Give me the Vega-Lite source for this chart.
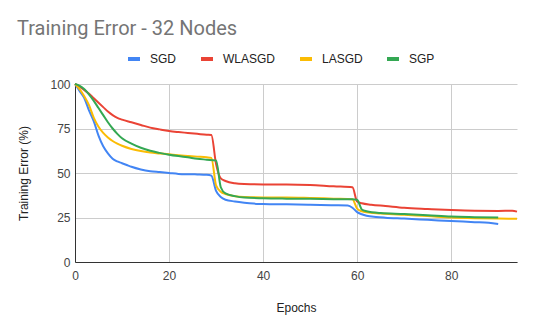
{
  "$schema": "https://vega.github.io/schema/vega-lite/v6.json",
  "width": 442,
  "height": 178,
  "autosize": {"type": "none"},
  "padding": {"left": 75, "top": 84, "right": 17, "bottom": 69},
  "background": "white",
  "title": {
    "text": "Training Error - 32 Nodes",
    "anchor": "start",
    "frame": "group",
    "dx": -58,
    "offset": -4,
    "baseline": "alphabetic",
    "font": "Roboto",
    "fontSize": 20,
    "fontWeight": "normal",
    "color": "#757575"
  },
  "config": {
    "view": {"stroke": null},
    "font": "Liberation Sans",
    "axis": {
      "labelFont": "Liberation Sans",
      "labelFontSize": 12,
      "labelColor": "#444444",
      "labelFlush": false,
      "titleFont": "Liberation Sans",
      "titleFontSize": 12,
      "titleFontWeight": "normal",
      "titleColor": "#222222",
      "gridColor": "#cccccc",
      "gridWidth": 1,
      "domainColor": "#333333",
      "domainWidth": 1,
      "ticks": false
    },
    "legend": {
      "labelFont": "Liberation Sans",
      "labelFontSize": 12,
      "labelColor": "#222222"
    }
  },
  "data": {
    "values": [
      {"series": "SGD", "epoch": 0, "value": 100},
      {"series": "SGD", "epoch": 1, "value": 96},
      {"series": "SGD", "epoch": 2, "value": 92},
      {"series": "SGD", "epoch": 3, "value": 85},
      {"series": "SGD", "epoch": 4, "value": 79},
      {"series": "SGD", "epoch": 5, "value": 71},
      {"series": "SGD", "epoch": 6, "value": 65},
      {"series": "SGD", "epoch": 7, "value": 61},
      {"series": "SGD", "epoch": 8, "value": 58},
      {"series": "SGD", "epoch": 9, "value": 56.5},
      {"series": "SGD", "epoch": 10, "value": 55.5},
      {"series": "SGD", "epoch": 11, "value": 54.5},
      {"series": "SGD", "epoch": 12, "value": 53.5},
      {"series": "SGD", "epoch": 14, "value": 52},
      {"series": "SGD", "epoch": 16, "value": 51},
      {"series": "SGD", "epoch": 18, "value": 50.5},
      {"series": "SGD", "epoch": 20, "value": 50},
      {"series": "SGD", "epoch": 22, "value": 49.5},
      {"series": "SGD", "epoch": 24, "value": 49.3},
      {"series": "SGD", "epoch": 26, "value": 49.2},
      {"series": "SGD", "epoch": 28, "value": 49},
      {"series": "SGD", "epoch": 29, "value": 48.5},
      {"series": "SGD", "epoch": 30, "value": 40},
      {"series": "SGD", "epoch": 31, "value": 36.5},
      {"series": "SGD", "epoch": 32, "value": 35},
      {"series": "SGD", "epoch": 34, "value": 34},
      {"series": "SGD", "epoch": 36, "value": 33.3},
      {"series": "SGD", "epoch": 38, "value": 32.8},
      {"series": "SGD", "epoch": 40, "value": 32.6},
      {"series": "SGD", "epoch": 45, "value": 32.4},
      {"series": "SGD", "epoch": 50, "value": 32.2},
      {"series": "SGD", "epoch": 55, "value": 31.9},
      {"series": "SGD", "epoch": 58, "value": 31.7},
      {"series": "SGD", "epoch": 59, "value": 30.5},
      {"series": "SGD", "epoch": 60, "value": 28},
      {"series": "SGD", "epoch": 61, "value": 26.8},
      {"series": "SGD", "epoch": 62, "value": 26},
      {"series": "SGD", "epoch": 64, "value": 25.3},
      {"series": "SGD", "epoch": 66, "value": 24.9},
      {"series": "SGD", "epoch": 70, "value": 24.4},
      {"series": "SGD", "epoch": 75, "value": 23.7},
      {"series": "SGD", "epoch": 80, "value": 23},
      {"series": "SGD", "epoch": 85, "value": 22.4},
      {"series": "SGD", "epoch": 88, "value": 22},
      {"series": "SGD", "epoch": 90, "value": 21.3},

      {"series": "WLASGD", "epoch": 0, "value": 100},
      {"series": "WLASGD", "epoch": 1, "value": 98.5},
      {"series": "WLASGD", "epoch": 2, "value": 96.5},
      {"series": "WLASGD", "epoch": 3, "value": 94.5},
      {"series": "WLASGD", "epoch": 4, "value": 92},
      {"series": "WLASGD", "epoch": 5, "value": 89.5},
      {"series": "WLASGD", "epoch": 6, "value": 87},
      {"series": "WLASGD", "epoch": 7, "value": 84.5},
      {"series": "WLASGD", "epoch": 8, "value": 82.5},
      {"series": "WLASGD", "epoch": 9, "value": 81},
      {"series": "WLASGD", "epoch": 10, "value": 80},
      {"series": "WLASGD", "epoch": 12, "value": 78.5},
      {"series": "WLASGD", "epoch": 14, "value": 77},
      {"series": "WLASGD", "epoch": 16, "value": 75.5},
      {"series": "WLASGD", "epoch": 18, "value": 74.5},
      {"series": "WLASGD", "epoch": 20, "value": 73.6},
      {"series": "WLASGD", "epoch": 22, "value": 73},
      {"series": "WLASGD", "epoch": 24, "value": 72.5},
      {"series": "WLASGD", "epoch": 26, "value": 72},
      {"series": "WLASGD", "epoch": 28, "value": 71.5},
      {"series": "WLASGD", "epoch": 29, "value": 71.3},
      {"series": "WLASGD", "epoch": 30, "value": 55},
      {"series": "WLASGD", "epoch": 31, "value": 47},
      {"series": "WLASGD", "epoch": 32, "value": 45.5},
      {"series": "WLASGD", "epoch": 34, "value": 44.2},
      {"series": "WLASGD", "epoch": 36, "value": 43.8},
      {"series": "WLASGD", "epoch": 40, "value": 43.6},
      {"series": "WLASGD", "epoch": 45, "value": 43.6},
      {"series": "WLASGD", "epoch": 50, "value": 43.3},
      {"series": "WLASGD", "epoch": 55, "value": 42.5},
      {"series": "WLASGD", "epoch": 59, "value": 42},
      {"series": "WLASGD", "epoch": 60, "value": 34},
      {"series": "WLASGD", "epoch": 61, "value": 33},
      {"series": "WLASGD", "epoch": 63, "value": 32.2},
      {"series": "WLASGD", "epoch": 66, "value": 31.5},
      {"series": "WLASGD", "epoch": 70, "value": 30.5},
      {"series": "WLASGD", "epoch": 75, "value": 29.8},
      {"series": "WLASGD", "epoch": 80, "value": 29.2},
      {"series": "WLASGD", "epoch": 85, "value": 28.8},
      {"series": "WLASGD", "epoch": 90, "value": 28.7},
      {"series": "WLASGD", "epoch": 93, "value": 28.8},
      {"series": "WLASGD", "epoch": 94, "value": 28.3},

      {"series": "LASGD", "epoch": 0, "value": 100},
      {"series": "LASGD", "epoch": 1, "value": 97},
      {"series": "LASGD", "epoch": 2, "value": 93},
      {"series": "LASGD", "epoch": 3, "value": 88},
      {"series": "LASGD", "epoch": 4, "value": 81},
      {"series": "LASGD", "epoch": 5, "value": 76},
      {"series": "LASGD", "epoch": 6, "value": 72.5},
      {"series": "LASGD", "epoch": 7, "value": 70},
      {"series": "LASGD", "epoch": 8, "value": 68},
      {"series": "LASGD", "epoch": 9, "value": 66.5},
      {"series": "LASGD", "epoch": 10, "value": 65.3},
      {"series": "LASGD", "epoch": 12, "value": 63.5},
      {"series": "LASGD", "epoch": 14, "value": 62.3},
      {"series": "LASGD", "epoch": 16, "value": 61.5},
      {"series": "LASGD", "epoch": 18, "value": 61},
      {"series": "LASGD", "epoch": 20, "value": 60.5},
      {"series": "LASGD", "epoch": 22, "value": 60},
      {"series": "LASGD", "epoch": 24, "value": 59.6},
      {"series": "LASGD", "epoch": 26, "value": 59.2},
      {"series": "LASGD", "epoch": 28, "value": 58.8},
      {"series": "LASGD", "epoch": 29, "value": 58.5},
      {"series": "LASGD", "epoch": 30, "value": 43},
      {"series": "LASGD", "epoch": 31, "value": 39.5},
      {"series": "LASGD", "epoch": 32, "value": 38.2},
      {"series": "LASGD", "epoch": 34, "value": 37},
      {"series": "LASGD", "epoch": 36, "value": 36.5},
      {"series": "LASGD", "epoch": 40, "value": 36.3},
      {"series": "LASGD", "epoch": 45, "value": 36.3},
      {"series": "LASGD", "epoch": 50, "value": 36},
      {"series": "LASGD", "epoch": 55, "value": 35.6},
      {"series": "LASGD", "epoch": 59, "value": 35.3},
      {"series": "LASGD", "epoch": 60, "value": 30},
      {"series": "LASGD", "epoch": 61, "value": 28.5},
      {"series": "LASGD", "epoch": 62, "value": 27.9},
      {"series": "LASGD", "epoch": 65, "value": 27.3},
      {"series": "LASGD", "epoch": 70, "value": 26.5},
      {"series": "LASGD", "epoch": 75, "value": 25.8},
      {"series": "LASGD", "epoch": 80, "value": 25},
      {"series": "LASGD", "epoch": 85, "value": 24.6},
      {"series": "LASGD", "epoch": 90, "value": 24.4},
      {"series": "LASGD", "epoch": 94, "value": 24.3},

      {"series": "SGP", "epoch": 0, "value": 100},
      {"series": "SGP", "epoch": 1, "value": 99},
      {"series": "SGP", "epoch": 2, "value": 97},
      {"series": "SGP", "epoch": 3, "value": 94},
      {"series": "SGP", "epoch": 4, "value": 90.5},
      {"series": "SGP", "epoch": 5, "value": 86.5},
      {"series": "SGP", "epoch": 6, "value": 82.5},
      {"series": "SGP", "epoch": 7, "value": 78.5},
      {"series": "SGP", "epoch": 8, "value": 75},
      {"series": "SGP", "epoch": 9, "value": 72},
      {"series": "SGP", "epoch": 10, "value": 69.5},
      {"series": "SGP", "epoch": 12, "value": 66.5},
      {"series": "SGP", "epoch": 14, "value": 64.2},
      {"series": "SGP", "epoch": 16, "value": 62.5},
      {"series": "SGP", "epoch": 18, "value": 61.3},
      {"series": "SGP", "epoch": 20, "value": 60.3},
      {"series": "SGP", "epoch": 22, "value": 59.5},
      {"series": "SGP", "epoch": 24, "value": 58.8},
      {"series": "SGP", "epoch": 26, "value": 58},
      {"series": "SGP", "epoch": 28, "value": 57.5},
      {"series": "SGP", "epoch": 30, "value": 57},
      {"series": "SGP", "epoch": 31, "value": 42},
      {"series": "SGP", "epoch": 32, "value": 38.5},
      {"series": "SGP", "epoch": 34, "value": 37},
      {"series": "SGP", "epoch": 36, "value": 36.2},
      {"series": "SGP", "epoch": 40, "value": 35.8},
      {"series": "SGP", "epoch": 45, "value": 35.6},
      {"series": "SGP", "epoch": 50, "value": 35.5},
      {"series": "SGP", "epoch": 55, "value": 35.3},
      {"series": "SGP", "epoch": 59, "value": 35.2},
      {"series": "SGP", "epoch": 60, "value": 35},
      {"series": "SGP", "epoch": 61, "value": 29.5},
      {"series": "SGP", "epoch": 62, "value": 28.5},
      {"series": "SGP", "epoch": 65, "value": 27.5},
      {"series": "SGP", "epoch": 70, "value": 27},
      {"series": "SGP", "epoch": 75, "value": 26.3},
      {"series": "SGP", "epoch": 80, "value": 25.5},
      {"series": "SGP", "epoch": 85, "value": 25.2},
      {"series": "SGP", "epoch": 90, "value": 25}
    ]
  },
  "mark": {"type": "line", "strokeWidth": 2, "interpolate": "monotone"},
  "encoding": {
    "x": {
      "field": "epoch",
      "type": "quantitative",
      "title": "Epochs",
      "scale": {"domain": [0, 94], "nice": false},
      "axis": {"values": [0, 20, 40, 60, 80], "labelPadding": 8, "titlePadding": 21, "domain": true}
    },
    "y": {
      "field": "value",
      "type": "quantitative",
      "title": "Training Error (%)",
      "scale": {"domain": [0, 100], "nice": false},
      "axis": {"values": [0, 25, 50, 75, 100], "labelPadding": 5, "titlePadding": 19, "domain": true}
    },
    "color": {
      "field": "series",
      "type": "nominal",
      "sort": ["SGD", "WLASGD", "LASGD", "SGP"],
      "scale": {
        "domain": ["SGD", "WLASGD", "LASGD", "SGP"],
        "range": ["#4285F4", "#EA4335", "#FBBC04", "#34A853"]
      },
      "legend": {
        "title": null,
        "orient": "none",
        "direction": "horizontal",
        "legendX": 51,
        "legendY": -33,
        "symbolType": "stroke",
        "symbolSize": 144,
        "symbolStrokeWidth": 4,
        "labelOffset": 8,
        "columnPadding": 16
      }
    }
  }
}
